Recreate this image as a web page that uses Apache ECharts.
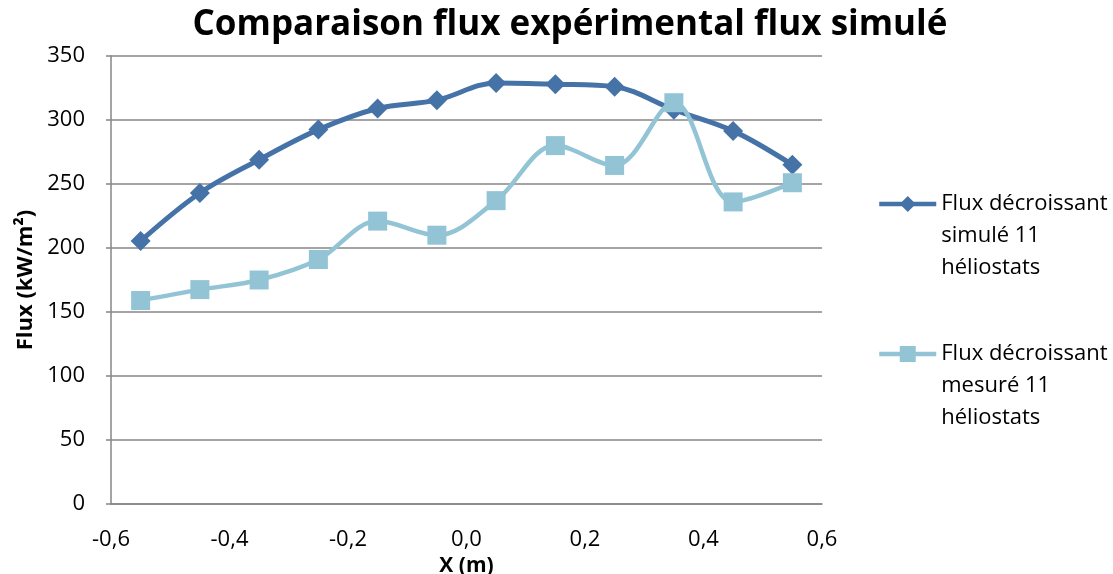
<!DOCTYPE html>
<html>
<head>
<meta charset="utf-8">
<script src="https://cdn.jsdelivr.net/npm/echarts@6/dist/echarts.min.js"></script>
<style>
  html, body { margin: 0; padding: 0; background: #fff; }
  #chart { width: 1113px; height: 574px; }
</style>
</head>
<body>
<div id="chart"></div>
<script>
// Positions along the receiver (m)
const positions = [-0.55, -0.45, -0.35, -0.25, -0.15, -0.05, 0.05, 0.15, 0.25, 0.35, 0.45, 0.55];
// Simulated flux, 11 heliostats (kW/m²)
const fluxSimule = [205.5, 243, 269, 292.5, 309, 315.5, 329, 328, 326, 308, 291.5, 265];
// Measured flux, 11 heliostats (kW/m²)
const fluxMesure = [159, 167.5, 175, 191, 221, 210, 237, 280, 264.5, 313.5, 236, 251];

const seriesNames = [
  'Flux décroissant\nsimulé 11\nhéliostats',
  'Flux décroissant\nmesuré 11\nhéliostats'
];
const colors = ['#4572A7', '#93C4D6'];

const FONT = '"Open Sans", "Liberation Sans", sans-serif';
const fmtComma = v => (Math.round(v * 10) / 10).toFixed(1).replace('.', ',');

const pair = (xs, ys) => xs.map((x, i) => [x, ys[i]]);

const chart = echarts.init(document.getElementById('chart'), null, { renderer: 'canvas' });

// Legend entries: icon sits level with the first line of the wrapped name
const legendBase = {
  left: 877,
  padding: 0,
  itemWidth: 57,
  itemHeight: 20,
  itemGap: 4,
  formatter: name => '\n\n' + name,
  lineStyle: { width: 4.5 },
  textStyle: {
    fontFamily: FONT,
    fontSize: 22,
    color: '#000',
    lineHeight: 32
  }
};

chart.setOption({
  animation: false,
  backgroundColor: '#fff',
  title: {
    text: 'Comparaison flux expérimental flux simulé',
    left: 565,
    textAlign: 'center',
    top: 3,
    textStyle: { fontFamily: FONT, fontSize: 35, fontWeight: 'bold', color: '#000' }
  },
  legend: [
    Object.assign({}, legendBase, { data: [seriesNames[0]], top: 124 }),
    Object.assign({}, legendBase, { data: [seriesNames[1]], top: 274 })
  ],
  grid: {
    left: 111, right: 291, top: 56, bottom: 70,
    containLabel: false,
    outerBoundsMode: 'none'
  },
  xAxis: {
    type: 'value',
    min: -0.6,
    max: 0.6,
    interval: 0.2,
    name: 'X (m)',
    nameLocation: 'middle',
    nameGap: 44,
    nameTextStyle: { fontFamily: FONT, fontSize: 21, fontWeight: 'bold', color: '#000' },
    axisLine: { show: true, onZero: false, lineStyle: { color: '#868686', width: 1.5 } },
    axisTick: { show: false },
    splitLine: { show: false },
    axisLabel: {
      formatter: fmtComma,
      fontFamily: FONT, fontSize: 22, color: '#000', margin: 25
    }
  },
  yAxis: {
    type: 'value',
    min: 0,
    max: 350,
    interval: 50,
    name: 'Flux (kW/m²)',
    nameLocation: 'middle',
    nameGap: 74,
    nameRotate: 90,
    nameTextStyle: { fontFamily: FONT, fontSize: 22, fontWeight: 'bold', color: '#000' },
    axisLine: { show: true, onZero: false, lineStyle: { color: '#868686', width: 1.5 } },
    axisTick: { show: true, length: 5, lineStyle: { color: '#868686', width: 1.5 } },
    splitLine: { show: true, lineStyle: { color: '#868686', width: 1.5 } },
    axisLabel: { fontFamily: FONT, fontSize: 22, color: '#000', margin: 26 }
  },
  series: [
    {
      name: seriesNames[0],
      type: 'line',
      data: pair(positions, fluxSimule),
      smooth: 0.35,
      symbol: 'diamond',
      symbolSize: [20, 20],
      showAllSymbol: true,
      color: colors[0],
      lineStyle: { color: colors[0], width: 5 },
      itemStyle: { color: colors[0] },
      z: 2
    },
    {
      name: seriesNames[1],
      type: 'line',
      data: pair(positions, fluxMesure),
      smooth: 0.35,
      symbol: 'rect',
      symbolSize: 19,
      showAllSymbol: true,
      color: colors[1],
      lineStyle: { color: colors[1], width: 4.5 },
      itemStyle: { color: colors[1] },
      z: 3
    }
  ]
});
</script>
</body>
</html>
